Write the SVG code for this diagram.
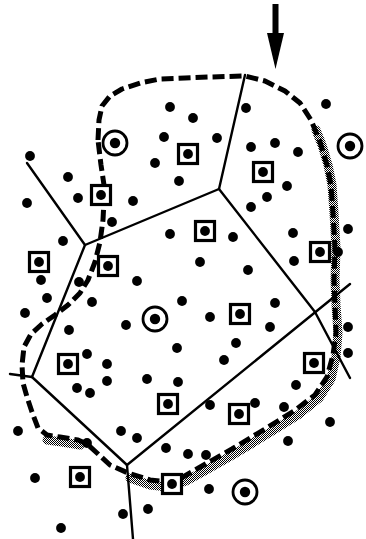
<svg xmlns="http://www.w3.org/2000/svg" width="366" height="539" viewBox="0 0 366 539">
<defs>
<pattern id="stip" width="2" height="2" patternUnits="userSpaceOnUse">
<rect x="0" y="0" width="1" height="1" fill="#000"/>
<rect x="1" y="1" width="1" height="1" fill="#000"/>
</pattern>
<style>
.v{fill:none;stroke:#000;stroke-width:2.4;stroke-linejoin:round;stroke-linecap:round}
.b{fill:none;stroke:#000;stroke-width:5;stroke-dasharray:12 5;stroke-linejoin:round}
.s{fill:none;stroke:url(#stip);stroke-width:9;stroke-linejoin:round;stroke-linecap:round}
.d{fill:#000}
.sq{fill:#fff;stroke:#000;stroke-width:3.2}
.ci{fill:#fff;stroke:#000;stroke-width:2.8}
</style>
</defs>
<rect width="366" height="539" fill="#fff"/>

<g id="stipple">
<path class="s" d="M316,130 L322,145 L328,165 L332,185 L334,213 L336,248 L335,280 L336,305 L338,333 L336,357 L331,379 L319,398 L298,415 L269,433 L236,453 L206,470 L186,481 L168,487 L150,485 L130,478"/>
<path class="s" d="M47,440 L62,442 L80,445"/>
</g>

<g id="voronoi">
<path class="v" d="M27,163 L85,245 L219,189 L245,75"/>
<path class="v" d="M219,189 L315,312 L350,378"/>
<path class="v" d="M350,284 L127,465"/>
<path class="v" d="M85,245 L32,377 L10,374"/>
<path class="v" d="M32,377 L127,465 L133,539"/>
</g>

<g id="boundary">
<path class="b" d="M98,140 L99,120 L102,106 L110,96 L122,89 L140,83 L160,79 L185,78 L210,77 L245,76 L265,81 L285,91 L300,103 L311,120 L320,142 L327,165 L331,185 L333,213 L335,248 L334,280 L335,305 L336,333 L333,355 L327,377 L315,395 L294,411 L265,429 L232,449 L202,466 L183,477 L168,482 L150,480 L128,473 L110,465 L97,453 L87,444 L78,440 L60,437 L47,435 L38,428 L32,412 L27,397 L23,383 L22,365 L24,347 L31,334 L42,324 L55,315 L68,305 L80,293 L88,280 L95,262 L100,242 L103,220 L104,200 L104,185 L101,165 L98,140"/>
</g>

<g id="arrow">
<rect x="272.5" y="4" width="6" height="31" fill="#000"/>
<path d="M267,33 L284,33 L275.5,69 Z" fill="#000"/>
</g>

<g id="points">
<circle class="d" cx="170" cy="107" r="4.9"/>
<circle class="d" cx="193" cy="118" r="4.9"/>
<circle class="d" cx="164" cy="137" r="4.9"/>
<circle class="d" cx="217" cy="138" r="4.9"/>
<circle class="d" cx="246" cy="108" r="4.9"/>
<circle class="d" cx="326" cy="104" r="4.9"/>
<circle class="d" cx="251" cy="147" r="4.9"/>
<circle class="d" cx="275" cy="143" r="4.9"/>
<circle class="d" cx="298" cy="152" r="4.9"/>
<circle class="d" cx="155" cy="163" r="4.9"/>
<circle class="d" cx="30" cy="156" r="4.9"/>
<circle class="d" cx="68" cy="177" r="4.9"/>
<circle class="d" cx="179" cy="181" r="4.9"/>
<circle class="d" cx="78" cy="198" r="4.9"/>
<circle class="d" cx="133" cy="201" r="4.9"/>
<circle class="d" cx="27" cy="203" r="4.9"/>
<circle class="d" cx="112" cy="222" r="4.9"/>
<circle class="d" cx="63" cy="241" r="4.9"/>
<circle class="d" cx="170" cy="234" r="4.9"/>
<circle class="d" cx="233" cy="237" r="4.9"/>
<circle class="d" cx="200" cy="262" r="4.9"/>
<circle class="d" cx="41" cy="280" r="4.9"/>
<circle class="d" cx="79" cy="282" r="4.9"/>
<circle class="d" cx="137" cy="281" r="4.9"/>
<circle class="d" cx="47" cy="298" r="4.9"/>
<circle class="d" cx="92" cy="302" r="4.9"/>
<circle class="d" cx="25" cy="313" r="4.9"/>
<circle class="d" cx="69" cy="330" r="4.9"/>
<circle class="d" cx="126" cy="325" r="4.9"/>
<circle class="d" cx="177" cy="348" r="4.9"/>
<circle class="d" cx="87" cy="354" r="4.9"/>
<circle class="d" cx="182" cy="301" r="4.9"/>
<circle class="d" cx="248" cy="270" r="4.9"/>
<circle class="d" cx="287" cy="186" r="4.9"/>
<circle class="d" cx="267" cy="197" r="4.9"/>
<circle class="d" cx="251" cy="207" r="4.9"/>
<circle class="d" cx="293" cy="233" r="4.9"/>
<circle class="d" cx="348" cy="229" r="4.9"/>
<circle class="d" cx="338" cy="252" r="4.9"/>
<circle class="d" cx="294" cy="261" r="4.9"/>
<circle class="d" cx="275" cy="303" r="4.9"/>
<circle class="d" cx="210" cy="317" r="4.9"/>
<circle class="d" cx="270" cy="327" r="4.9"/>
<circle class="d" cx="236" cy="343" r="4.9"/>
<circle class="d" cx="348" cy="327" r="4.9"/>
<circle class="d" cx="348" cy="353" r="4.9"/>
<circle class="d" cx="224" cy="360" r="4.9"/>
<circle class="d" cx="107" cy="364" r="4.9"/>
<circle class="d" cx="107" cy="381" r="4.9"/>
<circle class="d" cx="77" cy="388" r="4.9"/>
<circle class="d" cx="90" cy="393" r="4.9"/>
<circle class="d" cx="147" cy="379" r="4.9"/>
<circle class="d" cx="178" cy="382" r="4.9"/>
<circle class="d" cx="18" cy="431" r="4.9"/>
<circle class="d" cx="121" cy="431" r="4.9"/>
<circle class="d" cx="137" cy="438" r="4.9"/>
<circle class="d" cx="166" cy="448" r="4.9"/>
<circle class="d" cx="87" cy="443" r="4.9"/>
<circle class="d" cx="35" cy="478" r="4.9"/>
<circle class="d" cx="123" cy="514" r="4.9"/>
<circle class="d" cx="148" cy="509" r="4.9"/>
<circle class="d" cx="61" cy="528" r="4.9"/>
<circle class="d" cx="296" cy="385" r="4.9"/>
<circle class="d" cx="255" cy="403" r="4.9"/>
<circle class="d" cx="210" cy="405" r="4.9"/>
<circle class="d" cx="284" cy="407" r="4.9"/>
<circle class="d" cx="330" cy="422" r="4.9"/>
<circle class="d" cx="288" cy="441" r="4.9"/>
<circle class="d" cx="188" cy="454" r="4.9"/>
<circle class="d" cx="206" cy="455" r="4.9"/>
<circle class="d" cx="209" cy="489" r="4.9"/>
</g>

<g id="squares">
<rect class="sq" x="178.5" y="144.5" width="19" height="19"/><circle class="d" cx="188" cy="154" r="4.9"/>
<rect class="sq" x="253.5" y="162.5" width="19" height="19"/><circle class="d" cx="263" cy="172" r="4.9"/>
<rect class="sq" x="91.5" y="185.5" width="19" height="19"/><circle class="d" cx="101" cy="195" r="4.9"/>
<rect class="sq" x="195.5" y="221.5" width="19" height="19"/><circle class="d" cx="205" cy="231" r="4.9"/>
<rect class="sq" x="29.5" y="252.5" width="19" height="19"/><circle class="d" cx="39" cy="262" r="4.9"/>
<rect class="sq" x="98.5" y="256.5" width="19" height="19"/><circle class="d" cx="108" cy="266" r="4.9"/>
<rect class="sq" x="310.5" y="242.5" width="19" height="19"/><circle class="d" cx="320" cy="252" r="4.9"/>
<rect class="sq" x="230.5" y="304.5" width="19" height="19"/><circle class="d" cx="240" cy="314" r="4.9"/>
<rect class="sq" x="58.5" y="354.5" width="19" height="19"/><circle class="d" cx="68" cy="364" r="4.9"/>
<rect class="sq" x="304.5" y="353.5" width="19" height="19"/><circle class="d" cx="314" cy="363" r="4.9"/>
<rect class="sq" x="158.5" y="394.5" width="19" height="19"/><circle class="d" cx="168" cy="404" r="4.9"/>
<rect class="sq" x="229.5" y="404.5" width="19" height="19"/><circle class="d" cx="239" cy="414" r="4.9"/>
<rect class="sq" x="70.5" y="467.5" width="19" height="19"/><circle class="d" cx="80" cy="477" r="4.9"/>
<rect class="sq" x="162.5" y="474.5" width="19" height="19"/><circle class="d" cx="172" cy="484" r="4.9"/>
</g>

<g id="circles">
<circle class="ci" cx="115" cy="143" r="12"/><circle class="d" cx="115" cy="143" r="5.2"/>
<circle class="ci" cx="350" cy="146" r="12"/><circle class="d" cx="350" cy="146" r="5.2"/>
<circle class="ci" cx="155" cy="319" r="12"/><circle class="d" cx="155" cy="319" r="5.2"/>
<circle class="ci" cx="245" cy="492" r="12"/><circle class="d" cx="245" cy="492" r="5.2"/>
</g>
</svg>
